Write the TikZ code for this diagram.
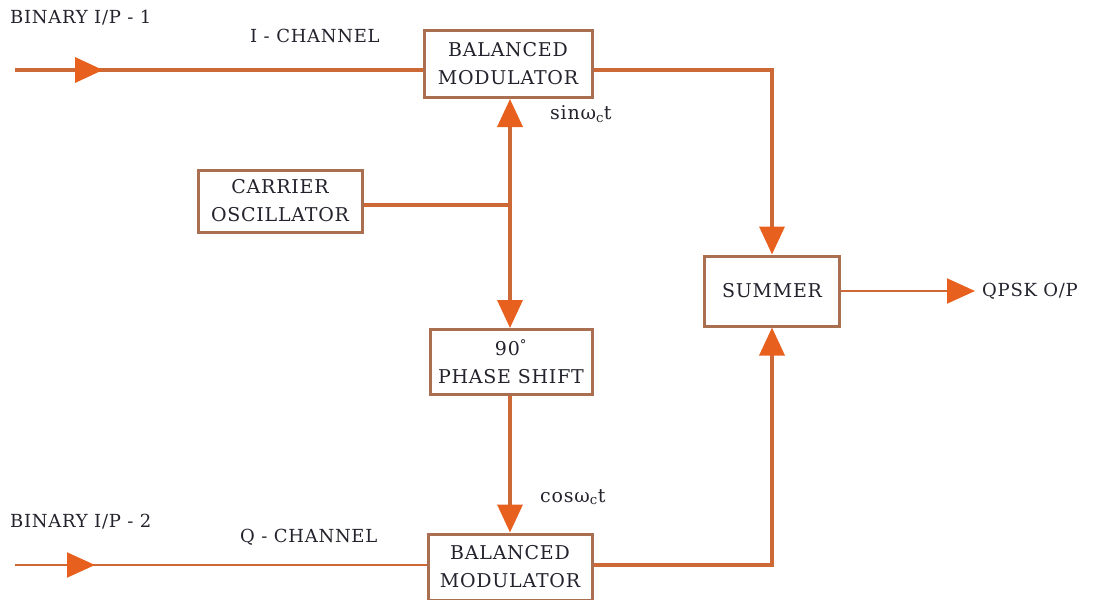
\documentclass[tikz,border=0pt]{standalone}
\usepackage{fontspec}
\setmainfont{DejaVu Serif}[LetterSpace=4]
\usetikzlibrary{arrows.meta,decorations.markings}
\definecolor{lineC}{RGB}{205,105,55}
\definecolor{arrC}{RGB}{232,96,30}
\definecolor{boxC}{RGB}{170,110,80}
\definecolor{txtC}{RGB}{35,35,45}
\tikzset{
  blk/.style={draw=boxC,line width=3pt,fill=white,align=center,inner sep=0pt,font=\fontsize{19}{28}\selectfont,text=txtC},
  wire/.style={draw=lineC,line width=3.6pt,line join=miter},
  thin/.style={draw=lineC,line width=2pt},
  tip/.style={-{Triangle[length=28pt,width=25pt,color=arrC]}},
  lbl/.style={font=\fontsize{18}{21}\selectfont,text=txtC,inner sep=0pt},
  midtip/.style={postaction={decorate,decoration={markings,mark=at position #1 with {\arrow{Triangle[length=28pt,width=25pt,color=arrC]}}}}}
}
\begin{document}
\begin{tikzpicture}[x=1pt,y=-1pt]
\useasboundingbox (0,0) rectangle (1107,599);
% blocks
\node[blk,minimum width=168pt,minimum height=67pt] (bm1) at (508,64) {BALANCED\\MODULATOR};
\node[blk,minimum width=164pt,minimum height=62pt] (osc) at (280,201) {CARRIER\\OSCILLATOR};
\node[blk,minimum width=162pt,minimum height=65pt] (ps) at (511,362) {90\textsuperscript{°}\\PHASE SHIFT};
\node[blk,minimum width=164pt,minimum height=66pt] (bm2) at (510,567) {BALANCED\\MODULATOR};
\node[blk,minimum width=135pt,minimum height=70pt] (sum) at (772,291) {SUMMER};
% coordinates
\coordinate (in1) at (15,70);
\coordinate (in2) at (15,565);
\coordinate (j) at (510,205);
\coordinate (r1) at (772,70);
\coordinate (r2) at (772,565);
\coordinate (out) at (975,291);
% labels
\node[lbl,anchor=west] (l1) at (10,18) {BINARY I/P - 1};
\node[lbl,anchor=west] (l2) at (250,36) {I - CHANNEL};
\node[lbl,anchor=west] (l3) at (10,522) {BINARY I/P - 2};
\node[lbl,anchor=west] (l4) at (240,537) {Q - CHANNEL};
\node[lbl,anchor=west,font=\fontsize{19}{22}\selectfont] (l5) at (550,114) {sinω\textsubscript{c}t};
\node[lbl,anchor=west,font=\fontsize{19}{22}\selectfont] (l6) at (540,497) {cosω\textsubscript{c}t};
\node[lbl,anchor=west] (l7) at (982,291) {QPSK O/P};
% connectors
\draw[wire,midtip=88pt] (in1) -- (bm1.west |- in1);
\draw[thin,midtip=80pt] (in2) -- (bm2.west |- in2);
\draw[wire] (osc.east |- j) -- (j);
\draw[wire,tip] (j) -- (bm1.south -| j);
\draw[wire,tip] (j) -- (ps.north -| j);
\draw[wire,tip] (ps.south -| j) -- (bm2.north -| j);
\draw[wire,tip] (bm1.east |- r1) -- (r1) -- (sum.north);
\draw[wire,tip] (bm2.east |- r2) -- (r2) -- (sum.south);
\draw[thin,tip] (sum.east) -- (out);
\end{tikzpicture}
\end{document}
